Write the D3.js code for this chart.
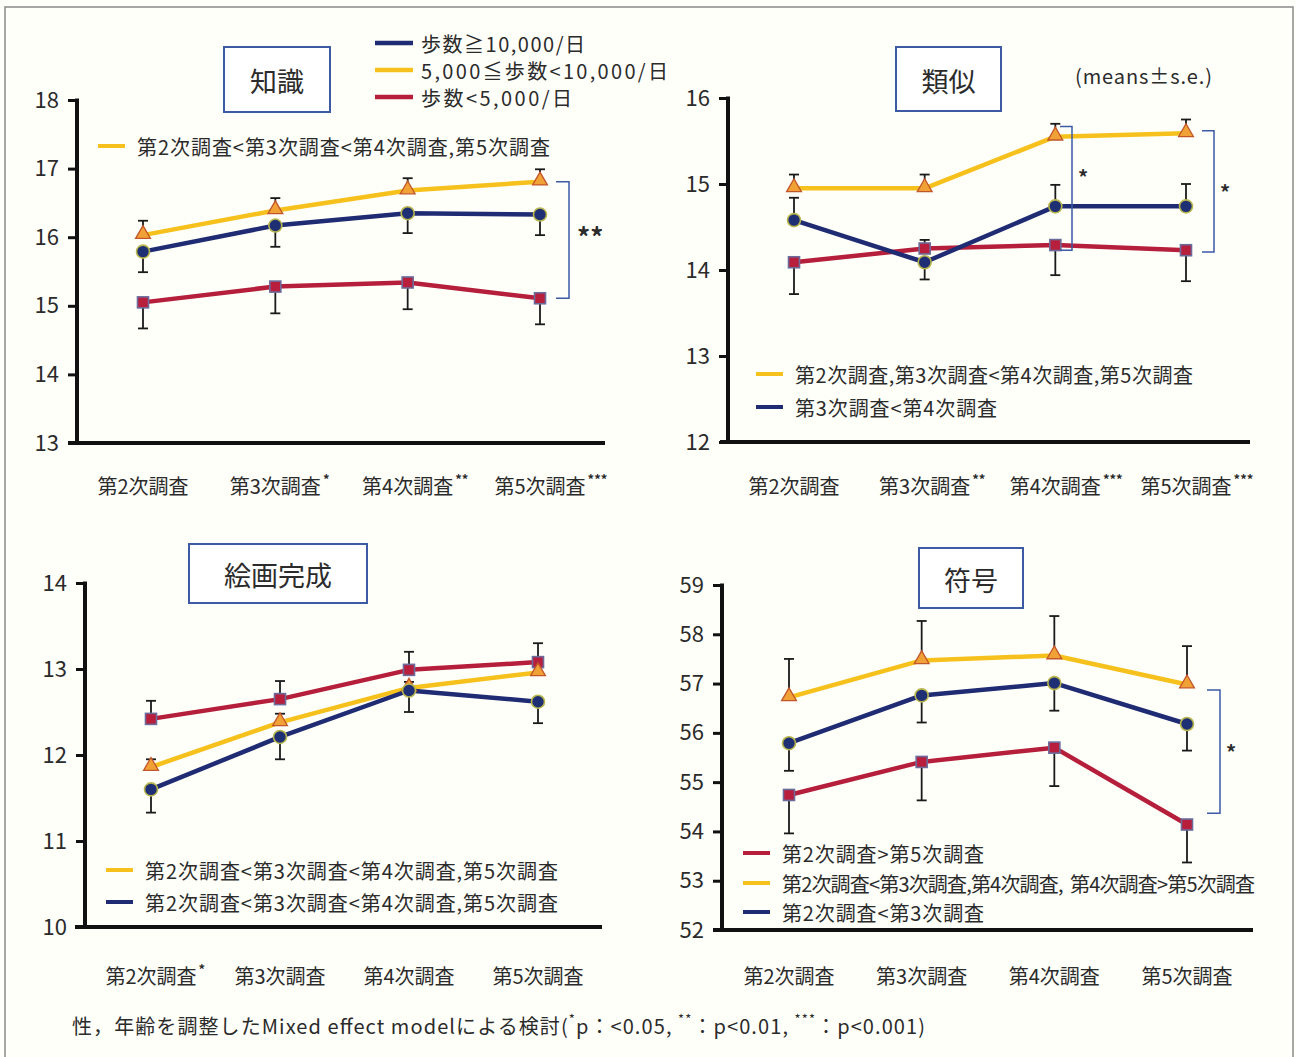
<!DOCTYPE html>
<html lang="ja">
<head>
<meta charset="utf-8">
<title>歩数別 認知機能テスト得点の推移</title>
<script src="https://cdn.jsdelivr.net/npm/d3@7/dist/d3.min.js"></script>
<style>
  html, body { margin: 0; padding: 0; background: #ffffff; }
  svg { display: block; }
  text { font-family: "Noto Sans CJK JP", "Noto Sans", sans-serif; fill: #2b2b2b; }
</style>
</head>
<body>
<svg id="chart" width="1296" height="1057"></svg>
<script>
// ---- data ----
const categories = ["第2次調査", "第3次調査", "第4次調査", "第5次調査"];
const seriesNames = ["歩数≧10,000/日", "5,000≦歩数<10,000/日", "歩数<5,000/日"];

// 知識
const chishikiHigh = [15.79, 16.17, 16.35, 16.33];
const chishikiHighSE = [0.30, 0.31, 0.29, 0.30];
const chishikiHighDir = [-1, -1, -1, -1];
const chishikiMid = [16.03, 16.39, 16.68, 16.81];
const chishikiMidSE = [0.21, 0.18, 0.18, 0.18];
const chishikiMidDir = [1, 1, 1, 1];
const chishikiLow = [15.05, 15.28, 15.34, 15.11];
const chishikiLowSE = [0.38, 0.39, 0.39, 0.38];
const chishikiLowDir = [-1, -1, -1, -1];
const chishikiSig = ["", "*", "**", "***"];
const chishikiNotes = [["mid", "第2次調査<第3次調査<第4次調査,第5次調査"]];

// 類似
const ruijiHigh = [14.58, 14.09, 14.74, 14.74];
const ruijiHighSE = [0.26, 0.20, 0.25, 0.26];
const ruijiHighDir = [1, -1, 1, 1];
const ruijiMid = [14.95, 14.95, 15.55, 15.59];
const ruijiMidSE = [0.16, 0.16, 0.15, 0.16];
const ruijiMidDir = [1, 1, 1, 1];
const ruijiLow = [14.09, 14.25, 14.29, 14.23];
const ruijiLowSE = [0.37, 0.10, 0.35, 0.36];
const ruijiLowDir = [-1, 1, -1, -1];
const ruijiSig = ["", "**", "***", "***"];
const ruijiNotes = [["mid", "第2次調査,第3次調査<第4次調査,第5次調査"], ["high", "第3次調査<第4次調査"]];

// 絵画完成
const kaigaHigh = [11.60, 12.21, 12.75, 12.62];
const kaigaHighSE = [0.27, 0.26, 0.25, 0.25];
const kaigaHighDir = [-1, -1, -1, -1];
const kaigaMid = [11.86, 12.38, 12.78, 12.96];
const kaigaMidSE = [0.09, 0.10, 0.07, 0.08];
const kaigaMidDir = [1, 1, 1, 1];
const kaigaLow = [12.42, 12.65, 12.99, 13.08];
const kaigaLowSE = [0.21, 0.21, 0.21, 0.22];
const kaigaLowDir = [1, 1, 1, 1];
const kaigaSig = ["*", "", "", ""];
const kaigaNotes = [["mid", "第2次調査<第3次調査<第4次調査,第5次調査"], ["high", "第2次調査<第3次調査<第4次調査,第5次調査"]];

// 符号
const fugoHigh = [55.79, 56.76, 57.01, 56.18];
const fugoHighSE = [0.56, 0.55, 0.56, 0.54];
const fugoHighDir = [-1, -1, -1, -1];
const fugoMid = [56.72, 57.47, 57.57, 56.98];
const fugoMidSE = [0.78, 0.80, 0.80, 0.78];
const fugoMidDir = [1, 1, 1, 1];
const fugoLow = [54.74, 55.41, 55.70, 54.14];
const fugoLowSE = [0.78, 0.78, 0.78, 0.77];
const fugoLowDir = [-1, -1, -1, -1];
const fugoSig = ["", "", "", ""];
const fugoNotes = [["low", "第2次調査>第5次調査"], ["mid", "第2次調査<第3次調査,第4次調査,  第4次調査>第5次調査"], ["high", "第2次調査<第3次調査"]];

// significance brackets between groups: [top value, bottom value, label]
const chishikiBrackets = [[16.81, 15.11, "**"]];
const ruijiBrackets = [[15.67, 14.23, "*"], [15.62, 14.21, "*"]];
const fugoBrackets = [[56.87, 54.37, "*"]];

const footnote = ["性，年齢を調整したMixed effect modelによる検討(", "*", "p：<0.05, ", "**", "：p<0.01, ", "***", "：p<0.001)"];

// ---- styles ----
const style = {
  high: { line: "#1f2b72", fill: "#1f2f74", stroke: "#b9b64c", shape: "circle" },
  mid:  { line: "#f6c11c", fill: "#f1a236", stroke: "#c2552a", shape: "triangle" },
  low:  { line: "#b51f3b", fill: "#b71f3c", stroke: "#6c6c9c", shape: "square" }
};
const boxBlue = "#3d5aa5";

const svg = d3.select("#chart");
svg.append("rect").attr("x", 0).attr("y", 0).attr("width", 1296).attr("height", 1057).attr("fill", "#fffffa");
svg.append("rect").attr("x", 5).attr("y", 7).attr("width", 1288).attr("height", 1070)
  .attr("fill", "none").attr("stroke", "#8a8a8a").attr("stroke-width", 1.5);

// stretch the letter spacing of a text to a set width
function fit(sel, width) {
  return sel.attr("textLength", width).attr("lengthAdjust", "spacing");
}

// ---- panel layout ----
const panels = [
  {
    title: "知識", domain: [13, 18], axisX: 77, yRange: [443, 100], xAxis: [68, 605], cat: [143, 540],
    box: [224, 47, 106, 65], labelY: 485, sig: chishikiSig,
    series: {
      high: [chishikiHigh, chishikiHighSE, chishikiHighDir],
      mid: [chishikiMid, chishikiMidSE, chishikiMidDir],
      low: [chishikiLow, chishikiLowSE, chishikiLowDir]
    },
    notes: chishikiNotes, noteX: 98, noteY: [146], noteW: [413],
    brackets: chishikiBrackets, bracketX: [569], bracketTick: 13, bracketLabelFont: 26, bracketLabelDx: 8, bracketLabelDy: [-4]
  },
  {
    title: "類似", domain: [12, 16], axisX: 728, yRange: [442, 98], xAxis: [720, 1250], cat: [794, 1186],
    box: [896, 47, 105, 64], labelY: 485, sig: ruijiSig,
    series: {
      high: [ruijiHigh, ruijiHighSE, ruijiHighDir],
      mid: [ruijiMid, ruijiMidSE, ruijiMidDir],
      low: [ruijiLow, ruijiLowSE, ruijiLowDir]
    },
    notes: ruijiNotes, noteX: 756, noteY: [374, 407], noteW: [398, 202],
    brackets: ruijiBrackets, bracketX: [1072, 1214], bracketTick: 12, bracketLabelFont: 20, bracketLabelDx: 6, bracketLabelDy: [-12, 0]
  },
  {
    title: "絵画完成", domain: [10, 14], axisX: 85, yRange: [927, 583], xAxis: [75, 602], cat: [151, 538],
    box: [189, 544, 178, 59], labelY: 975, sig: kaigaSig,
    series: {
      high: [kaigaHigh, kaigaHighSE, kaigaHighDir],
      mid: [kaigaMid, kaigaMidSE, kaigaMidDir],
      low: [kaigaLow, kaigaLowSE, kaigaLowDir]
    },
    notes: kaigaNotes, noteX: 106, noteY: [870, 902], noteW: [413, 413],
    brackets: [], bracketX: [], bracketTick: 0, bracketLabelFont: 0, bracketLabelDx: 0, bracketLabelDy: []
  },
  {
    title: "符号", domain: [52, 59], axisX: 722, yRange: [930, 585], xAxis: [713, 1253], cat: [789, 1187],
    box: [919, 548, 104, 60], labelY: 975, sig: fugoSig,
    series: {
      high: [fugoHigh, fugoHighSE, fugoHighDir],
      mid: [fugoMid, fugoMidSE, fugoMidDir],
      low: [fugoLow, fugoLowSE, fugoLowDir]
    },
    notes: fugoNotes, noteX: 743, noteY: [853, 883, 912], noteW: [202, 473, 202],
    brackets: fugoBrackets, bracketX: [1220], bracketTick: 13, bracketLabelFont: 20, bracketLabelDx: 6, bracketLabelDy: [0]
  }
];

const drawOrder = ["low", "mid", "high"];

function drawMarker(g, key, x, y) {
  const s = style[key];
  if (s.shape === "circle") {
    g.append("circle").attr("cx", x).attr("cy", y).attr("r", 6.5)
      .attr("fill", s.fill).attr("stroke", s.stroke).attr("stroke-width", 1.6);
  } else if (s.shape === "square") {
    g.append("rect").attr("x", x - 5.5).attr("y", y - 5.5).attr("width", 11).attr("height", 11)
      .attr("fill", s.fill).attr("stroke", s.stroke).attr("stroke-width", 1.6);
  } else {
    g.append("path").attr("d", d3.symbol().type(d3.symbolTriangle).size(95)())
      .attr("transform", `translate(${x},${y - 1})`)
      .attr("fill", s.fill).attr("stroke", s.stroke).attr("stroke-width", 1.3);
  }
}

panels.forEach(p => {
  const g = svg.append("g");
  const y = d3.scaleLinear().domain(p.domain).range(p.yRange);
  const x = d3.scalePoint().domain(categories).range(p.cat);

  // y axis
  const ticks = d3.range(p.domain[0], p.domain[1] + 1);
  const yAxis = d3.axisLeft(y).tickValues(ticks).tickSize(9).tickPadding(9).tickFormat(d3.format("d"));
  const ya = g.append("g").attr("transform", `translate(${p.axisX},0)`).call(yAxis);
  ya.select(".domain").remove();
  ya.selectAll(".tick line").attr("stroke", "#111").attr("stroke-width", 3);
  ya.selectAll(".tick text").attr("font-size", 22).attr("fill", "#333")
    .attr("font-family", "\"Noto Sans CJK JP\", sans-serif");
  g.append("line").attr("x1", p.axisX).attr("x2", p.axisX)
    .attr("y1", p.yRange[1] - 1.5).attr("y2", p.yRange[0])
    .attr("stroke", "#111").attr("stroke-width", 4);
  g.append("line").attr("x1", p.xAxis[0]).attr("x2", p.xAxis[1])
    .attr("y1", p.yRange[0]).attr("y2", p.yRange[0])
    .attr("stroke", "#111").attr("stroke-width", 4);

  // category labels with significance marks
  categories.forEach((c, i) => {
    const t = g.append("text").attr("x", x(c)).attr("y", p.labelY)
      .attr("text-anchor", "middle").attr("dominant-baseline", "central")
      .attr("font-size", 20).text(c);
    if (p.sig[i]) {
      const w = t.node().getComputedTextLength();
      g.append("text").attr("x", x(c) + w / 2 + 2).attr("y", p.labelY - 7)
        .attr("dominant-baseline", "central").attr("font-size", 13).attr("font-weight", 700)
        .text(p.sig[i]);
    }
  });

  // title box
  g.append("rect").attr("x", p.box[0]).attr("y", p.box[1]).attr("width", p.box[2]).attr("height", p.box[3])
    .attr("fill", "#ffffff").attr("stroke", boxBlue).attr("stroke-width", 2);
  g.append("text").attr("x", p.box[0] + p.box[2] / 2).attr("y", p.box[1] + p.box[3] / 2 + 1)
    .attr("text-anchor", "middle").attr("dominant-baseline", "central")
    .attr("font-size", 27).attr("fill", "#1a1a1a").text(p.title);

  // error bars
  drawOrder.forEach(key => {
    const [vals, se, dir] = p.series[key];
    vals.forEach((v, i) => {
      const cx = x(categories[i]);
      const end = y(v + dir[i] * se[i]);
      g.append("line").attr("x1", cx).attr("x2", cx).attr("y1", y(v)).attr("y2", end)
        .attr("stroke", "#1a1a1a").attr("stroke-width", 1.8);
      g.append("line").attr("x1", cx - 5).attr("x2", cx + 5).attr("y1", end).attr("y2", end)
        .attr("stroke", "#1a1a1a").attr("stroke-width", 1.8);
    });
  });

  // lines
  const line = d3.line().x((d, i) => x(categories[i])).y(d => y(d));
  drawOrder.forEach(key => {
    const vals = p.series[key][0];
    g.append("path").datum(vals).attr("d", line)
      .attr("fill", "none").attr("stroke", style[key].line).attr("stroke-width", 4.5)
      .attr("stroke-linejoin", "round");
  });

  // markers
  drawOrder.forEach(key => {
    const vals = p.series[key][0];
    vals.forEach((v, i) => drawMarker(g, key, x(categories[i]), y(v)));
  });

  // notes on within-group differences
  p.notes.forEach((n, i) => {
    const ny = p.noteY[i];
    g.append("line").attr("x1", p.noteX).attr("x2", p.noteX + 27).attr("y1", ny).attr("y2", ny)
      .attr("stroke", style[n[0]].line).attr("stroke-width", 4);
    fit(g.append("text").attr("x", p.noteX + 39).attr("y", ny).attr("dominant-baseline", "central")
      .attr("font-size", 20).attr("xml:space", "preserve").text(n[1]), p.noteW[i]);
  });

  // between-group brackets
  p.brackets.forEach((b, i) => {
    const bx = p.bracketX[i];
    const y1 = y(b[0]), y2 = y(b[1]);
    g.append("path")
      .attr("d", `M${bx - p.bracketTick},${y1}H${bx}V${y2}H${bx - p.bracketTick}`)
      .attr("fill", "none").attr("stroke", boxBlue).attr("stroke-width", 1.5);
    g.append("text").attr("x", bx + p.bracketLabelDx).attr("y", (y1 + y2) / 2 + p.bracketLabelDy[i])
      .attr("dominant-baseline", "central").attr("font-size", p.bracketLabelFont)
      .attr("font-weight", 700).attr("fill", "#1a1a1a").text(b[2]);
  });
});

// ---- group legend ----
const legY = [43, 70, 97];
const legW = [164, 247, 151];
["high", "mid", "low"].forEach((key, i) => {
  svg.append("line").attr("x1", 375).attr("x2", 413).attr("y1", legY[i]).attr("y2", legY[i])
    .attr("stroke", style[key].line).attr("stroke-width", 4.5);
  fit(svg.append("text").attr("x", 421).attr("y", legY[i]).attr("dominant-baseline", "central")
    .attr("font-size", 20).text(seriesNames[i]), legW[i]);
});

fit(svg.append("text").attr("x", 1075).attr("y", 75).attr("dominant-baseline", "central")
  .attr("font-size", 20).text("(means±s.e.)"), 137);

// ---- footnote ----
const fn = svg.append("text").attr("x", 72).attr("y", 1025).attr("dominant-baseline", "central")
  .attr("font-size", 20).attr("xml:space", "preserve");
footnote.forEach((part, i) => {
  const isMark = part.startsWith("*");
  fn.append("tspan").attr("font-size", isMark ? 13 : 20)
    .attr("dy", isMark ? -7 : (i > 0 ? 7 : 0)).text(part);
});
fit(fn, 853);
</script>
</body>
</html>
